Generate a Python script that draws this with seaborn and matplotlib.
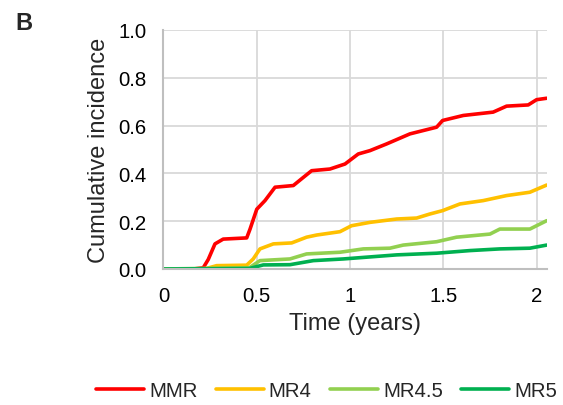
import numpy as np
import pandas as pd
import matplotlib
matplotlib.use("Agg")
import matplotlib.pyplot as plt
import seaborn as sns

# ── Data ──────────────────────────────────────────────────────────────────────
mmr_t = [0, 0.16, 0.213, 0.24, 0.276, 0.32, 0.446, 0.464, 0.5, 0.544, 0.598, 0.696,
         0.74, 0.794, 0.892, 0.973, 1.044, 1.107, 1.196, 1.321, 1.464, 1.496, 1.607,
         1.767, 1.839, 1.955, 2.0, 2.054]
mmr_y = [0, 0, 0.005, 0.04, 0.105, 0.125, 0.13, 0.167, 0.25, 0.286, 0.342, 0.349,
         0.377, 0.411, 0.418, 0.439, 0.481, 0.495, 0.523, 0.565, 0.593, 0.621, 0.642,
         0.656, 0.681, 0.686, 0.708, 0.714]

mr4_t = [0, 0.22, 0.285, 0.446, 0.481, 0.517, 0.589, 0.687, 0.767, 0.821, 0.946, 1.008,
         1.107, 1.25, 1.357, 1.428, 1.496, 1.589, 1.714, 1.839, 1.964, 2.054]
mr4_y = [0, 0, 0.014, 0.016, 0.042, 0.084, 0.105, 0.109, 0.133, 0.142, 0.156, 0.181,
         0.195, 0.209, 0.213, 0.23, 0.244, 0.272, 0.286, 0.307, 0.321, 0.351]

mr45_t = [0, 0.46, 0.517, 0.678, 0.767, 0.946, 1.071, 1.214, 1.285, 1.464, 1.571,
          1.75, 1.803, 1.964, 2.054]
mr45_y = [0, 0.005, 0.035, 0.042, 0.063, 0.07, 0.084, 0.087, 0.1, 0.114, 0.133,
          0.146, 0.167, 0.167, 0.202]

mr5_t = [0, 0.46, 0.535, 0.678, 0.803, 0.964, 1.25, 1.464, 1.643, 1.803, 1.964, 2.054]
mr5_y = [0, 0.002, 0.017, 0.018, 0.035, 0.042, 0.059, 0.066, 0.077, 0.084, 0.087, 0.1]

groups = ["MMR", "MR4", "MR4.5", "MR5"]
colors = ["#FF0000", "#FFC000", "#92D050", "#00B050"]

x_ticks = [0, 0.5, 1, 1.5, 2]
x_tick_labels = ["0", "0.5", "1", "1.5", "2"]
y_ticks = [0.0, 0.2, 0.4, 0.6, 0.8, 1.0]

# ── Long frame for seaborn ────────────────────────────────────────────────────
frames = []
for g, t, y in zip(groups, [mmr_t, mr4_t, mr45_t, mr5_t], [mmr_y, mr4_y, mr45_y, mr5_y]):
    frames.append(pd.DataFrame({"time": t, "inc": y, "group": g}))
df = pd.concat(frames, ignore_index=True)

sns.set_theme(style="white")
plt.rcParams["font.family"] = ["Liberation Sans", "DejaVu Sans"]

fig = plt.figure(figsize=(5.63, 4.06), dpi=100)
ax = fig.add_axes([0.2904, 0.335, 0.6806, 0.589])

sns.lineplot(data=df, x="time", y="inc", hue="group", hue_order=groups,
             palette=dict(zip(groups, colors)), estimator=None, sort=False,
             linewidth=2.6, ax=ax, legend=False)

ax.set_xlim(0, 2.054)
ax.set_ylim(0, 1.0)
ax.set_xticks(x_ticks)
ax.set_xticklabels(x_tick_labels)
ax.set_yticks(y_ticks)
ax.set_yticklabels([f"{v:.1f}" for v in y_ticks])
ax.grid(True, color="#D9D9D9", lw=1.3)
ax.set_axisbelow(True)
for s in ["top", "right"]:
    ax.spines[s].set_visible(False)
for s in ["left", "bottom"]:
    ax.spines[s].set_color("#BFBFBF")
    ax.spines[s].set_linewidth(1.5)
ax.tick_params(axis="both", length=0, labelsize=14.7, colors="black")
ax.tick_params(axis="y", pad=12)
ax.tick_params(axis="x", pad=12)
ax.set_xlabel("Time (years)", fontsize=17, labelpad=5)
ax.set_ylabel("Cumulative incidence", fontsize=17, labelpad=6)

handles = [plt.Line2D([], [], color=c, lw=2.6) for c in colors]
fig.legend(handles, groups, loc="center", bbox_to_anchor=(0.58, 0.035), ncol=4,
           frameon=False, fontsize=14.7, handlelength=2.35, handletextpad=0.25,
           columnspacing=0.9)

fig.text(0.027, 0.927, "B", fontsize=17, fontweight="bold")

fig.savefig("out.png", dpi=100)
